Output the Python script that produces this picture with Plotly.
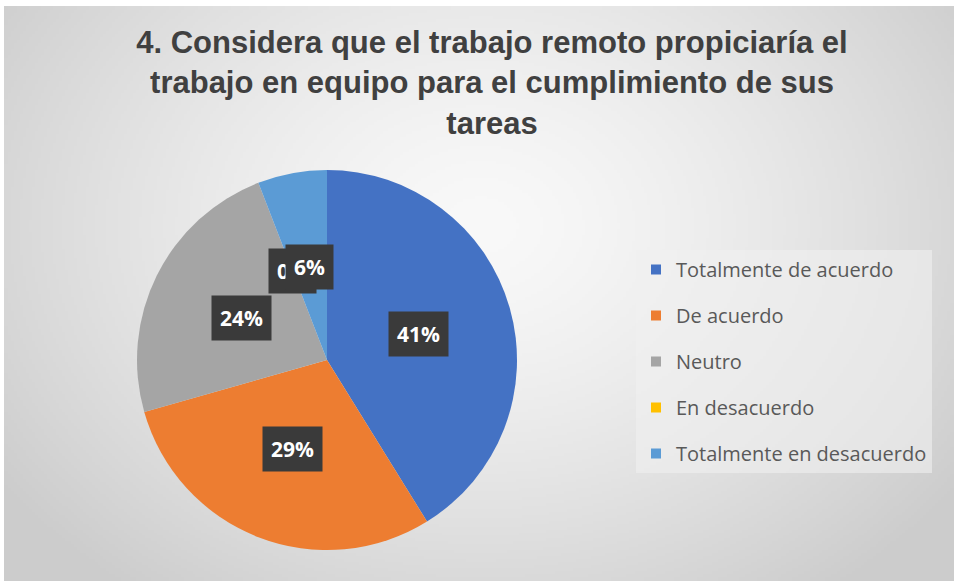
import base64, struct, zlib, math
import numpy as np
import plotly.graph_objects as go

categories = ["Totalmente de acuerdo", "De acuerdo", "Neutro", "En desacuerdo", "Totalmente en desacuerdo"]
counts = [7, 5, 4, 0, 1]
colors = ["#4472C4", "#ED7D31", "#A5A5A5", "#FFC000", "#5B9BD5"]
title_text = "4. Considera que el trabajo remoto propiciaría el<br>trabajo en equipo para el cumplimiento de sus<br>tareas"

W, H = 954, 581

# ---- background gradient image (styling only) ----
def make_png(arr):
    h, w, _ = arr.shape
    raw = b"".join(b"\x00" + arr[i].tobytes() for i in range(h))
    def chunk(t, d):
        c = struct.pack(">I", len(d)) + t + d
        return c + struct.pack(">I", zlib.crc32(t + d) & 0xffffffff)
    png = b"\x89PNG\r\n\x1a\n" + chunk(b"IHDR", struct.pack(">IIBBBBB", w, h, 8, 2, 0, 0, 0)) \
        + chunk(b"IDAT", zlib.compress(raw, 9)) + chunk(b"IEND", b"")
    return "data:image/png;base64," + base64.b64encode(png).decode()

gw, gh = 320, 195
yy, xx = np.mgrid[0:gh, 0:gw]
cx, cy = 0.50 * gw, 0.38 * gh
d = np.sqrt(((xx - cx) / (0.62 * gw)) ** 2 + ((yy - cy) / (0.80 * gh)) ** 2)
d = np.clip(d, 0, 1)
val = 249 - (249 - 204) * d ** 1.4
grad = np.repeat(val[:, :, None], 3, axis=2).astype(np.uint8)
bg_uri = make_png(grad)

# ---- pie geometry ----
pcx, pcy, prad = 327, 360, 190
dom_x = [(pcx - prad) / W, (pcx + prad) / W]
dom_y = [1 - (pcy + prad) / H, 1 - (pcy - prad) / H]

fig = go.Figure()
fig.add_trace(go.Pie(
    labels=categories, values=counts, sort=False, direction="clockwise", rotation=0,
    marker=dict(colors=colors, line=dict(width=0)),
    textinfo="none", hoverinfo="label+percent", showlegend=False,
    domain=dict(x=dom_x, y=dom_y),
))

# legend entries as dummy traces (for spacing)
for cat, col in zip(categories, colors):
    fig.add_trace(go.Scatter(
        x=[None], y=[None], mode="markers", name=cat, legendgroup=cat,
        marker=dict(symbol="square", size=10, color=col),
    ))

# data labels in dark boxes, positioned from slice mid-angles
total = sum(counts)
cum = 0
annotations = []
for c in counts:
    frac = c / total
    mid = (cum + frac / 2) * 2 * math.pi
    cum += frac
    r = 0.5 * prad
    ax = pcx + r * math.sin(mid)
    ay = pcy - r * math.cos(mid)
    annotations.append(dict(
        x=ax / W, y=1 - ay / H, xref="paper", yref="paper",
        text=f"<b>{round(frac * 100)}%</b>", showarrow=False,
        font=dict(family="Open Sans", size=21, color="white"),
        bgcolor="#3a3a3a", borderpad=8, xanchor="center", yanchor="middle",
    ))

fig.update_layout(
    width=W, height=H,
    margin=dict(l=0, r=0, t=0, b=0),
    paper_bgcolor="white", plot_bgcolor="rgba(0,0,0,0)",
    xaxis=dict(visible=False), yaxis=dict(visible=False),
    images=[dict(source=bg_uri, xref="paper", yref="paper", x=4 / W, y=1 - 6 / H,
                 sizex=1 - 4 / W, sizey=1 - 6 / H, sizing="stretch", layer="below",
                 xanchor="left", yanchor="top")],
    title=dict(text=title_text, x=492 / W, xanchor="center", y=1 - 53 / H, yanchor="top",
               font=dict(family="Liberation Sans", size=31, color="#404040", weight="bold")),
    legend=dict(x=636 / W, y=1 - 250 / H, xanchor="left", yanchor="top",
                bgcolor="rgba(240,240,240,0.6)", tracegroupgap=17,
                font=dict(family="Open Sans", size=20, color="#595959"),
                itemwidth=30),
    annotations=annotations,
)

fig.write_html("out.html", post_script="document.body.style.margin='0px';",
               config={"displayModeBar": False})
